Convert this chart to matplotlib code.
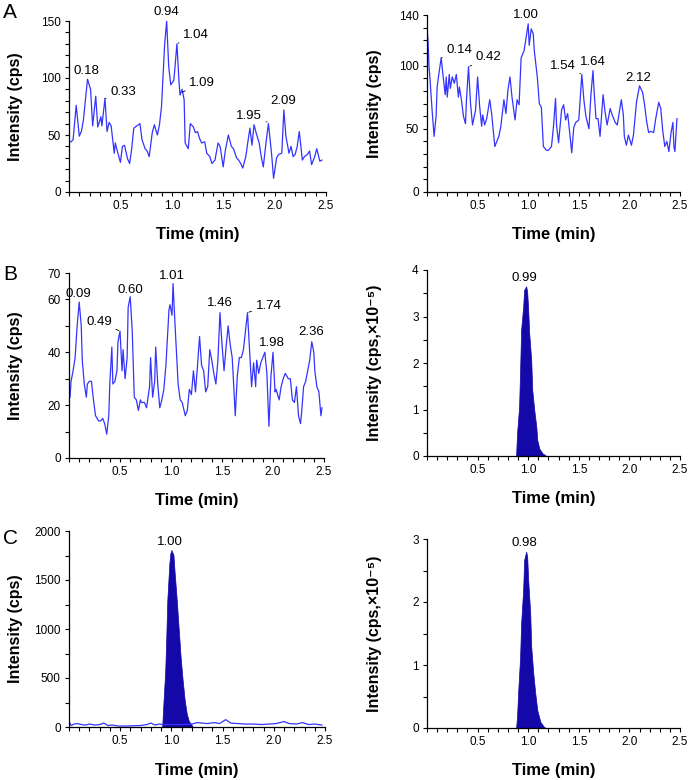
import numpy as np
import matplotlib.pyplot as plt
from matplotlib.ticker import MultipleLocator, FormatStrFormatter

plt.rcParams['font.family'] = ['Liberation Sans', 'DejaVu Sans']

LINE_BLUE = '#3434ff'
FILL_BLUE = '#1408a8'

# --- data (time in min, intensity) ---
# A left: blank trace
a1_points = [(0.01, 44), (0.02, 44), (0.04, 46), (0.07, 76), (0.10, 49), (0.12, 53), (0.14, 63),
             (0.18, 99), (0.21, 90), (0.23, 58), (0.26, 84), (0.28, 57), (0.31, 66), (0.32, 58),
             (0.35, 82), (0.37, 53), (0.39, 61), (0.41, 58), (0.44, 34), (0.45, 43), (0.47, 36),
             (0.50, 26), (0.52, 40), (0.54, 41), (0.57, 29), (0.59, 25), (0.61, 38), (0.63, 56),
             (0.66, 58), (0.69, 60), (0.71, 46), (0.74, 38), (0.76, 36), (0.78, 31), (0.81, 52),
             (0.83, 59), (0.86, 50), (0.88, 59), (0.90, 75), (0.93, 129), (0.95, 150), (0.97, 110),
             (0.99, 94), (1.02, 98), (1.05, 130), (1.07, 97), (1.08, 85), (1.10, 90), (1.12, 81),
             (1.13, 43), (1.16, 38), (1.18, 60), (1.21, 57), (1.23, 52), (1.25, 53), (1.27, 47),
             (1.29, 43), (1.32, 44), (1.34, 34), (1.37, 31), (1.39, 25), (1.42, 28), (1.45, 43),
             (1.47, 40), (1.50, 22), (1.52, 36), (1.55, 50), (1.58, 40), (1.60, 38), (1.63, 30),
             (1.65, 28), (1.67, 25), (1.69, 21), (1.72, 31), (1.74, 44), (1.76, 56), (1.78, 41),
             (1.80, 59), (1.82, 52), (1.85, 43), (1.87, 31), (1.89, 22), (1.92, 46), (1.94, 60),
             (1.97, 34), (1.99, 12), (2.02, 30), (2.04, 33), (2.07, 34), (2.09, 72), (2.11, 49),
             (2.14, 34), (2.16, 40), (2.18, 31), (2.20, 33), (2.22, 40), (2.24, 53), (2.27, 28),
             (2.29, 31), (2.32, 33), (2.34, 36), (2.36, 24), (2.39, 31), (2.41, 38), (2.44, 27),
             (2.46, 28)]

# A right
a2_points = [(0.00, 129), (0.01, 120), (0.02, 99), (0.03, 89), (0.05, 65), (0.07, 44), (0.09, 60),
             (0.10, 83), (0.12, 95), (0.14, 106), (0.16, 91), (0.18, 77), (0.19, 91), (0.20, 75),
             (0.22, 93), (0.23, 82), (0.25, 91), (0.27, 86), (0.29, 93), (0.31, 75), (0.32, 83),
             (0.34, 73), (0.36, 60), (0.38, 54), (0.39, 73), (0.41, 99), (0.43, 70), (0.45, 53),
             (0.48, 65), (0.50, 91), (0.52, 68), (0.54, 52), (0.55, 61), (0.57, 53), (0.59, 58),
             (0.62, 73), (0.64, 61), (0.67, 36), (0.69, 40), (0.71, 44), (0.73, 52), (0.76, 73),
             (0.78, 62), (0.80, 81), (0.82, 91), (0.84, 75), (0.87, 57), (0.89, 73), (0.91, 69),
             (0.93, 106), (0.96, 112), (1.00, 133), (1.01, 116), (1.03, 129), (1.05, 125),
             (1.06, 112), (1.09, 91), (1.11, 70), (1.13, 67), (1.15, 36), (1.18, 33), (1.20, 33),
             (1.23, 36), (1.25, 52), (1.27, 74), (1.28, 53), (1.30, 39), (1.33, 65), (1.35, 69),
             (1.37, 57), (1.39, 62), (1.41, 47), (1.43, 31), (1.45, 51), (1.47, 55), (1.50, 57),
             (1.53, 93), (1.55, 73), (1.57, 60), (1.60, 50), (1.62, 77), (1.64, 96), (1.65, 81),
             (1.67, 58), (1.69, 58), (1.71, 44), (1.74, 77), (1.76, 63), (1.78, 53), (1.81, 66),
             (1.83, 61), (1.86, 55), (1.88, 53), (1.92, 73), (1.94, 61), (1.95, 44), (1.97, 37),
             (1.99, 45), (2.02, 37), (2.04, 45), (2.07, 71), (2.10, 84), (2.13, 79), (2.15, 69),
             (2.17, 56), (2.19, 47), (2.21, 48), (2.24, 47), (2.26, 58), (2.29, 71), (2.31, 66),
             (2.33, 48), (2.35, 36), (2.37, 40), (2.39, 32), (2.41, 46), (2.43, 55), (2.44, 36),
             (2.45, 32), (2.47, 58)]

# B left
b1_points = [(0.01, 23), (0.02, 29), (0.04, 33), (0.06, 38), (0.08, 50), (0.10, 59), (0.12, 50),
             (0.13, 37), (0.15, 28), (0.17, 23), (0.18, 28), (0.20, 29), (0.22, 29), (0.24, 22),
             (0.26, 16), (0.29, 14), (0.31, 14), (0.33, 15), (0.35, 13), (0.37, 9), (0.39, 16),
             (0.40, 28), (0.42, 42), (0.43, 28), (0.45, 29), (0.47, 33), (0.48, 44), (0.50, 48),
             (0.52, 33), (0.53, 41), (0.55, 30), (0.57, 38), (0.58, 57), (0.60, 61), (0.62, 48),
             (0.64, 23), (0.66, 22), (0.68, 18), (0.70, 22), (0.71, 21), (0.74, 21), (0.76, 19),
             (0.79, 27), (0.80, 38), (0.82, 23), (0.84, 29), (0.85, 42), (0.87, 28), (0.89, 19),
             (0.91, 22), (0.93, 26), (0.95, 35), (0.98, 56), (0.99, 58), (1.01, 54), (1.02, 66),
             (1.04, 50), (1.07, 28), (1.09, 22), (1.11, 21), (1.14, 16), (1.16, 18), (1.18, 26),
             (1.20, 24), (1.22, 33), (1.24, 25), (1.26, 35), (1.28, 46), (1.30, 35), (1.32, 33),
             (1.34, 25), (1.36, 27), (1.38, 41), (1.40, 37), (1.42, 32), (1.44, 28), (1.46, 37),
             (1.48, 55), (1.50, 43), (1.52, 33), (1.54, 42), (1.56, 50), (1.58, 43), (1.60, 38),
             (1.61, 31), (1.63, 16), (1.65, 31), (1.67, 38), (1.69, 38), (1.71, 41), (1.73, 48),
             (1.75, 55), (1.77, 41), (1.79, 27), (1.81, 36), (1.83, 27), (1.84, 37), (1.86, 32),
             (1.88, 36), (1.90, 38), (1.92, 40), (1.94, 32), (1.96, 12), (1.98, 31), (2.00, 40),
             (2.02, 25), (2.03, 26), (2.06, 22), (2.08, 27), (2.10, 30), (2.12, 32), (2.15, 30),
             (2.17, 30), (2.19, 22), (2.21, 21), (2.23, 27), (2.25, 16), (2.27, 13), (2.28, 17),
             (2.30, 27), (2.32, 29), (2.34, 33), (2.36, 37), (2.38, 44), (2.40, 40), (2.41, 33),
             (2.43, 27), (2.45, 25), (2.47, 16), (2.48, 19)]

# B right: peak in units of 1e5 cps
b2_points = [(0.88, 0.0), (0.89, 0.49), (0.91, 1.06), (0.92, 1.85), (0.93, 2.71), (0.95, 3.20),
             (0.96, 3.57), (0.98, 3.65), (0.99, 3.53), (1.00, 3.14), (1.01, 2.64), (1.03, 2.06),
             (1.04, 1.42), (1.06, 0.99), (1.08, 0.63), (1.09, 0.34), (1.11, 0.16), (1.14, 0.06),
             (1.18, 0.0)]

# C left: filled peak plus the blank baseline trace
c1_peak = [(0.91, 0), (0.92, 204), (0.94, 579), (0.95, 920), (0.96, 1295), (0.98, 1670),
           (0.99, 1772), (1.00, 1806), (1.02, 1755), (1.03, 1601), (1.05, 1329), (1.07, 1022),
           (1.09, 716), (1.11, 477), (1.13, 273), (1.15, 136), (1.17, 61), (1.20, 17), (1.21, 0)]
c1_base = [(0.00, 60), (0.02, 15), (0.05, 30), (0.08, 35), (0.12, 25), (0.16, 20), (0.20, 30),
           (0.25, 20), (0.30, 25), (0.34, 40), (0.38, 15), (0.42, 20), (0.48, 10), (0.55, 10),
           (0.62, 12), (0.70, 15), (0.76, 25), (0.80, 40), (0.84, 20), (0.88, 30), (0.92, 25),
           (1.00, 25), (1.10, 25), (1.20, 30), (1.25, 45), (1.30, 40), (1.35, 35), (1.42, 45),
           (1.47, 35), (1.53, 75), (1.58, 40), (1.65, 35), (1.72, 30), (1.80, 30), (1.88, 25),
           (1.95, 30), (2.02, 35), (2.10, 55), (2.15, 35), (2.22, 30), (2.28, 45), (2.34, 25),
           (2.40, 30), (2.47, 20)]

# C right: peak in units of 1e5 cps
c2_points = [(0.88, 0.0), (0.89, 0.18), (0.90, 0.55), (0.92, 1.13), (0.93, 1.66), (0.95, 2.19),
             (0.96, 2.67), (0.98, 2.80), (0.99, 2.72), (1.00, 2.35), (1.02, 1.82), (1.03, 1.29),
             (1.05, 0.87), (1.07, 0.55), (1.09, 0.28), (1.12, 0.10), (1.15, 0.03), (1.17, 0.0)]

# peak labels: text, peak (x, y), text (x, y), alignment, leader line
a1_labels = [('0.18', (0.18, 99), (0.17, 106), 'center', False),
             ('0.33', (0.35, 82), (0.40, 88), 'left', True),
             ('0.94', (0.95, 150), (0.95, 158), 'center', False),
             ('1.04', (1.05, 130), (1.11, 138), 'left', True),
             ('1.09', (1.09, 87), (1.17, 96), 'left', True),
             ('1.95', (1.94, 61), (1.88, 67), 'right', True),
             ('2.09', (2.09, 72), (2.08, 80), 'center', False)]
a2_labels = [('0.14', (0.14, 106), (0.19, 112), 'left', True),
             ('0.42', (0.41, 99), (0.48, 107), 'left', True),
             ('1.00', (1.00, 133), (0.98, 140), 'center', False),
             ('1.54', (1.53, 93), (1.47, 100), 'right', True),
             ('1.64', (1.64, 96), (1.64, 103), 'center', False),
             ('2.12', (2.10, 84), (2.09, 90), 'center', False)]
b1_labels = [('0.09', (0.10, 59), (0.09, 62), 'center', False),
             ('0.49', (0.50, 48), (0.42, 51.5), 'right', True),
             ('0.60', (0.60, 61), (0.60, 63.6), 'center', False),
             ('1.01', (1.02, 66), (1.01, 69), 'center', False),
             ('1.46', (1.48, 55), (1.48, 58.6), 'center', False),
             ('1.74', (1.75, 55), (1.83, 57.7), 'left', True),
             ('1.98', (2.00, 40), (1.99, 43.5), 'center', False),
             ('2.36', (2.38, 44), (2.37, 47.8), 'center', False)]
b2_labels = [('0.99', (0.98, 3.65), (0.96, 3.83), 'center', False)]
c1_labels = [('1.00', (1.00, 1806), (0.99, 1887), 'center', False)]
c2_labels = [('0.98', (0.98, 2.80), (0.96, 2.94), 'center', False)]

FIG_W, FIG_H = 692, 780
fig = plt.figure(figsize=(FIG_W / 100, FIG_H / 100), dpi=100)


def make_axes(left, top, right, bottom):
    return fig.add_axes([left / FIG_W, 1 - bottom / FIG_H, (right - left) / FIG_W, (bottom - top) / FIG_H])


def style(ax, ymax, yticks, yminor, ylabel):
    ax.set_xlim(0, 2.5)
    ax.set_ylim(0, ymax)
    for s in ('top', 'right'):
        ax.spines[s].set_visible(False)
    for s in ('left', 'bottom'):
        ax.spines[s].set_linewidth(0.9)
    ax.set_xticks([0.5, 1.0, 1.5, 2.0, 2.5])
    ax.xaxis.set_minor_locator(MultipleLocator(0.1))
    ax.xaxis.set_major_formatter(FormatStrFormatter('%.1f'))
    ax.set_yticks(yticks)
    ax.yaxis.set_minor_locator(MultipleLocator(yminor))
    ax.tick_params(which='both', direction='out', length=3, width=0.8, labelsize=8.5, pad=3)
    ax.set_xlabel('Time (min)', fontweight='bold', fontsize=12)
    ax.set_ylabel(ylabel, fontweight='bold', fontsize=11.5)
    bb = ax.get_position()
    w_px, h_px = bb.width * FIG_W, bb.height * FIG_H
    ax.xaxis.set_label_coords(0.5, -43 / h_px)
    ax.xaxis.label.set_va('center')
    ax.yaxis.set_label_coords(-53 / w_px, 0.5)
    ax.yaxis.label.set_va('center')


def label_peaks(ax, labels):
    for text, (px, py), (tx, ty), ha, leader in labels:
        if leader:
            ax.annotate(text, xy=(px, py), xytext=(tx, ty), ha=ha, va='center', fontsize=9.5,
                        annotation_clip=False,
                        arrowprops=dict(arrowstyle='-', lw=0.6, color='black', shrinkA=1, shrinkB=1))
        else:
            ax.text(tx, ty, text, ha=ha, va='center', fontsize=9.5, clip_on=False)


def trace(ax, pts):
    t, y = zip(*pts)
    ax.plot(t, y, color=LINE_BLUE, lw=0.9)


def peak(ax, pts):
    t, y = zip(*pts)
    ax.fill_between(t, 0, y, color=FILL_BLUE, lw=0.5, edgecolor=FILL_BLUE)


ylab = 'Intensity (cps)'
ylab5 = 'Intensity (cps,×10⁻⁵)'

ax = make_axes(69, 21, 326, 192)
trace(ax, a1_points)
style(ax, 150, [0, 50, 100, 150], 10, ylab)
label_peaks(ax, a1_labels)

ax = make_axes(427, 15, 680, 192)
trace(ax, a2_points)
style(ax, 140, [0, 50, 100, 140], 10, ylab)
label_peaks(ax, a2_labels)

ax = make_axes(69, 273, 324, 458)
trace(ax, b1_points)
style(ax, 70, [0, 20, 40, 60, 70], 10, ylab)
label_peaks(ax, b1_labels)

ax = make_axes(427, 270, 680, 456)
peak(ax, b2_points)
style(ax, 4, [0, 1, 2, 3, 4], 0.5, ylab5)
label_peaks(ax, b2_labels)

ax = make_axes(69, 531, 325, 727)
trace(ax, c1_base)
peak(ax, c1_peak)
style(ax, 2000, [0, 500, 1000, 1500, 2000], 250, ylab)
label_peaks(ax, c1_labels)

ax = make_axes(427, 539, 680, 728)
peak(ax, c2_points)
style(ax, 3, [0, 1, 2, 3], 0.5, ylab5)
label_peaks(ax, c2_labels)

for letter, y in (('A', 13), ('B', 274), ('C', 538)):
    fig.text(3 / FIG_W, 1 - y / FIG_H, letter, fontsize=15, ha='left', va='center')

fig.savefig('out.png', dpi=100)
